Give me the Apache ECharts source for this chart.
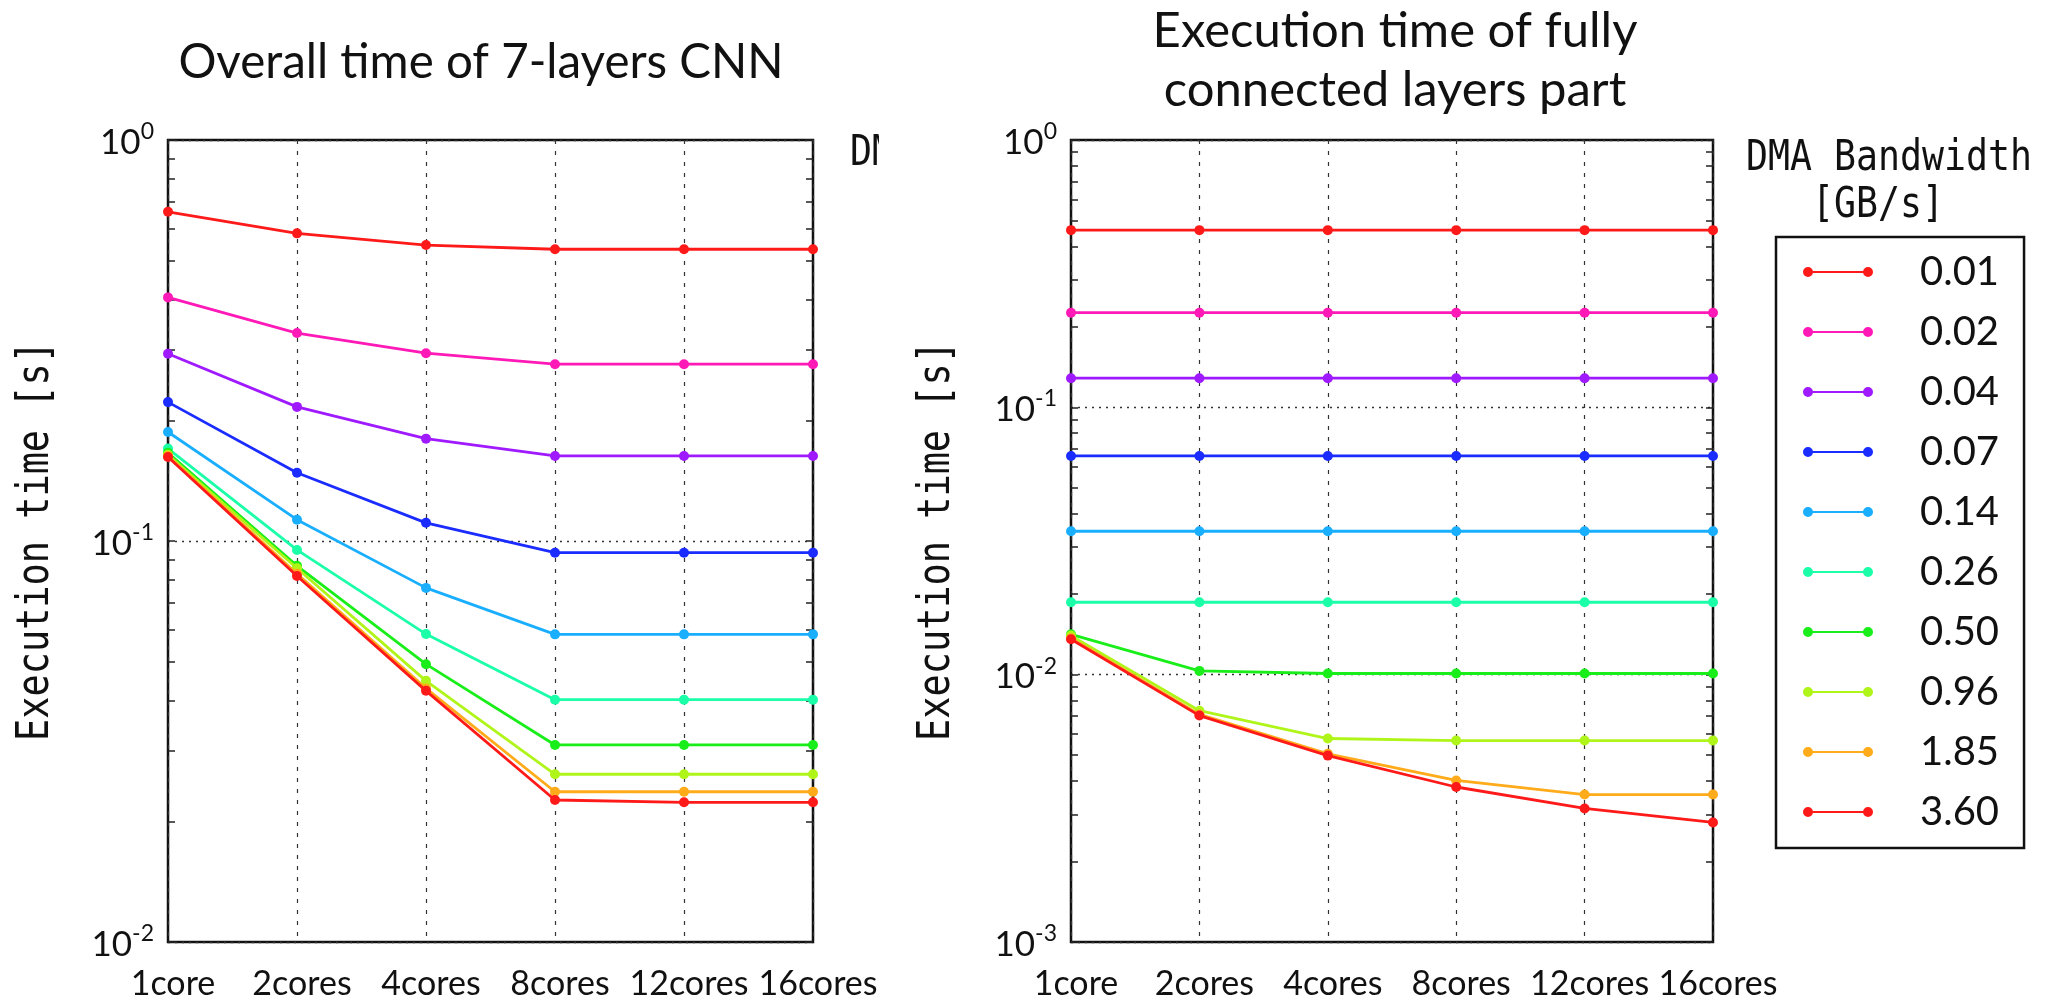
<!DOCTYPE html>
<html><head><meta charset="utf-8">
<script src="https://cdn.jsdelivr.net/npm/echarts@6/dist/echarts.min.js"></script>
<style>html,body{margin:0;padding:0;background:#fff}#c{width:2053px;height:1002px}</style>
</head><body><div id="c"></div>
<script>
// ---------- data ----------
const categories = ['1core', '2cores', '4cores', '8cores', '12cores', '16cores'];
const bandwidths = ['0.01', '0.02', '0.04', '0.07', '0.14', '0.26', '0.50', '0.96', '1.85', '3.60'];
const colors = ['#ff1a1a', '#ff1ab8', '#a01aff', '#1a2cff', '#1aaeff', '#1affa8', '#1aee1a', '#b0f51a', '#ffab1a', '#ff1a1a'];

// Overall time of 7-layers CNN [s]
const overall_001 = [0.662, 0.585, 0.547, 0.534, 0.534, 0.534];
const overall_002 = [0.405, 0.330, 0.294, 0.276, 0.276, 0.276];
const overall_004 = [0.293, 0.216, 0.180, 0.163, 0.163, 0.163];
const overall_007 = [0.222, 0.148, 0.111, 0.0935, 0.0935, 0.0935];
const overall_014 = [0.187, 0.113, 0.0764, 0.0585, 0.0585, 0.0585];
const overall_026 = [0.170, 0.095, 0.0586, 0.0402, 0.0402, 0.0402];
const overall_050 = [0.166, 0.0867, 0.0493, 0.0310, 0.0310, 0.0310];
const overall_096 = [0.164, 0.0855, 0.0448, 0.0262, 0.0262, 0.0262];
const overall_185 = [0.163, 0.0828, 0.0429, 0.0237, 0.0237, 0.0237];
const overall_360 = [0.162, 0.0818, 0.0423, 0.0226, 0.0223, 0.0223];

// Execution time of fully connected layers part [s]
const fc_001 = [0.460, 0.460, 0.460, 0.460, 0.460, 0.460];
const fc_002 = [0.226, 0.226, 0.226, 0.226, 0.226, 0.226];
const fc_004 = [0.1285, 0.1285, 0.1285, 0.1285, 0.1285, 0.1285];
const fc_007 = [0.0658, 0.0658, 0.0658, 0.0658, 0.0658, 0.0658];
const fc_014 = [0.0344, 0.0344, 0.0344, 0.0344, 0.0344, 0.0344];
const fc_026 = [0.01866, 0.01866, 0.01866, 0.01866, 0.01866, 0.01866];
const fc_050 = [0.01416, 0.01033, 0.0101, 0.0101, 0.0101, 0.0101];
const fc_096 = [0.0140, 0.00733, 0.00577, 0.00567, 0.00567, 0.00567];
const fc_185 = [0.01369, 0.00710, 0.00506, 0.00402, 0.00356, 0.00356];
const fc_360 = [0.01356, 0.00703, 0.00498, 0.00380, 0.00316, 0.00280];

const overallSeries = [overall_001, overall_002, overall_004, overall_007, overall_014, overall_026, overall_050, overall_096, overall_185, overall_360];
const fcSeries = [fc_001, fc_002, fc_004, fc_007, fc_014, fc_026, fc_050, fc_096, fc_185, fc_360];

const leftExtent = [0.01, 1];
const rightExtent = [0.001, 1];
const minorMultiples = [1, 2, 3, 4, 5, 6, 7, 8, 9];

// ---------- helpers ----------
function tickValues(ext) {
  const e0 = Math.round(Math.log10(ext[0])), e1 = Math.round(Math.log10(ext[1]));
  const v = [];
  for (let e = e0; e < e1; e++) minorMultiples.forEach(m => v.push(+(m * Math.pow(10, e)).toPrecision(4)));
  v.push(ext[1]);
  return v;
}
const expLabel = v => '{b|10}{s|' + Math.round(Math.log10(v)) + '}';
const labelRich = {
  b: { fontFamily: 'Lato', fontSize: 35, color: '#111', lineHeight: 40, verticalAlign: 'bottom' },
  s: { fontFamily: 'Lato', fontSize: 23, color: '#111', lineHeight: 22, verticalAlign: 'top' }
};

const gridDefs = [
  { left: 168, top: 140, width: 645, height: 802 },
  { left: 1071, top: 140, width: 642, height: 802 }
];
const extents = [leftExtent, rightExtent];

const grid = gridDefs.map(g => Object.assign({ show: true, borderColor: '#111', borderWidth: 2.5, backgroundColor: '#fff' }, g));

const xAxis = gridDefs.map((g, i) => ({
  type: 'category', gridIndex: i, data: categories, boundaryGap: false,
  axisLine: { show: false }, axisTick: { show: false },
  axisLabel: { interval: 0, fontFamily: 'Lato', fontSize: 34, color: '#111', margin: 25, padding: [0, 0, 0, 10] },
  splitLine: { show: true, interval: 0, lineStyle: { type: [4, 7], color: '#333', width: 1.2 } }
}));

const yAxis = [];
extents.forEach((ext, i) => {
  yAxis.push({
    type: 'log', logBase: 10, gridIndex: i, min: ext[0], max: ext[1],
    axisLine: { show: false }, axisTick: { show: false },
    axisLabel: { formatter: expLabel, rich: labelRich, margin: 14 },
    splitLine: { show: true, lineStyle: { type: [2, 5], color: '#333', width: 1.3 } }
  });
  ['left', 'right'].forEach(pos => yAxis.push({
    type: 'log', logBase: 10, gridIndex: i, min: ext[0], max: ext[1], position: pos,
    axisLine: { show: false }, axisLabel: { show: false }, splitLine: { show: false },
    axisTick: { show: true, inside: true, length: 7, customValues: tickValues(ext), lineStyle: { color: '#222', width: 1.5 } }
  }));
});

const series = [];
[overallSeries, fcSeries].forEach((group, gi) => {
  group.forEach((data, k) => {
    series.push({
      name: bandwidths[k], type: 'line', xAxisIndex: gi, yAxisIndex: gi * 3,
      data: data, symbol: 'circle', symbolSize: 10,
      itemStyle: { color: colors[k], borderWidth: 0 },
      lineStyle: { color: colors[k], width: 2.8 },
      emphasis: { disabled: true }, z: 3 + k
    });
  });
});

const legendIcon = 'path://M0,5A5,5,0,1,1,10,5A5,5,0,1,1,0,5Z M60,5A5,5,0,1,1,70,5A5,5,0,1,1,60,5Z M9.6,4L60.4,4L60.4,6L9.6,6Z';

const monoFont = '"DejaVu Sans Mono", "Liberation Mono", monospace';
function txt(x, y, text, font, size, extra) {
  return Object.assign({
    type: 'text', x: x, y: y, z: 50,
    style: { text: text, fontFamily: font, fontSize: size, fill: '#111',
      align: 'center', verticalAlign: 'middle', textAlign: 'center', textVerticalAlign: 'middle' }
  }, extra || {});
}

const option = {
  animation: false,
  backgroundColor: '#fff',
  grid, xAxis, yAxis, series,
  legend: {
    data: bandwidths, orient: 'vertical', left: 1776, top: 237,
    itemWidth: 70, itemHeight: 10, itemGap: 20, icon: legendIcon,
    padding: [15, 25, 16, 27], borderColor: '#111', borderWidth: 2.5, backgroundColor: '#fff',
    itemStyle: { borderWidth: 0 }, selectedMode: false,
    textStyle: { fontFamily: 'Lato', fontSize: 40, lineHeight: 40, color: '#111', padding: [0, 0, 0, 42] }
  },
  graphic: [
    txt(481, 63, 'Overall time of 7-layers CNN', 'Lato', 47.5),
    txt(1395, 31, 'Execution time of fully', 'Lato', 49),
    txt(1395, 90, 'connected layers part', 'Lato', 49),
    txt(36, 541, 'Execution time [s]', monoFont, 45, { rotation: Math.PI / 2, scaleX: 0.82 }),
    txt(937, 541, 'Execution time [s]', monoFont, 45, { rotation: Math.PI / 2, scaleX: 0.82 }),
    txt(1889, 159, 'DMA Bandwidth', monoFont, 43, { scaleX: 0.85 }),
    txt(1878, 206, '[GB/s]', monoFont, 43, { scaleX: 0.85 }),
    { type: 'text', x: 850, y: 154, z: 50, scaleX: 0.85,
      style: { text: 'DM', fontFamily: monoFont, fontSize: 43, fill: '#111', align: 'left', verticalAlign: 'middle', textAlign: 'left', textVerticalAlign: 'middle' } },
    { type: 'rect', z: 60, shape: { x: 879, y: 120, width: 40, height: 70 }, style: { fill: '#fff' } }
  ]
};

const chart = echarts.init(document.getElementById('c'));
chart.setOption(option);
</script>
</body></html>
